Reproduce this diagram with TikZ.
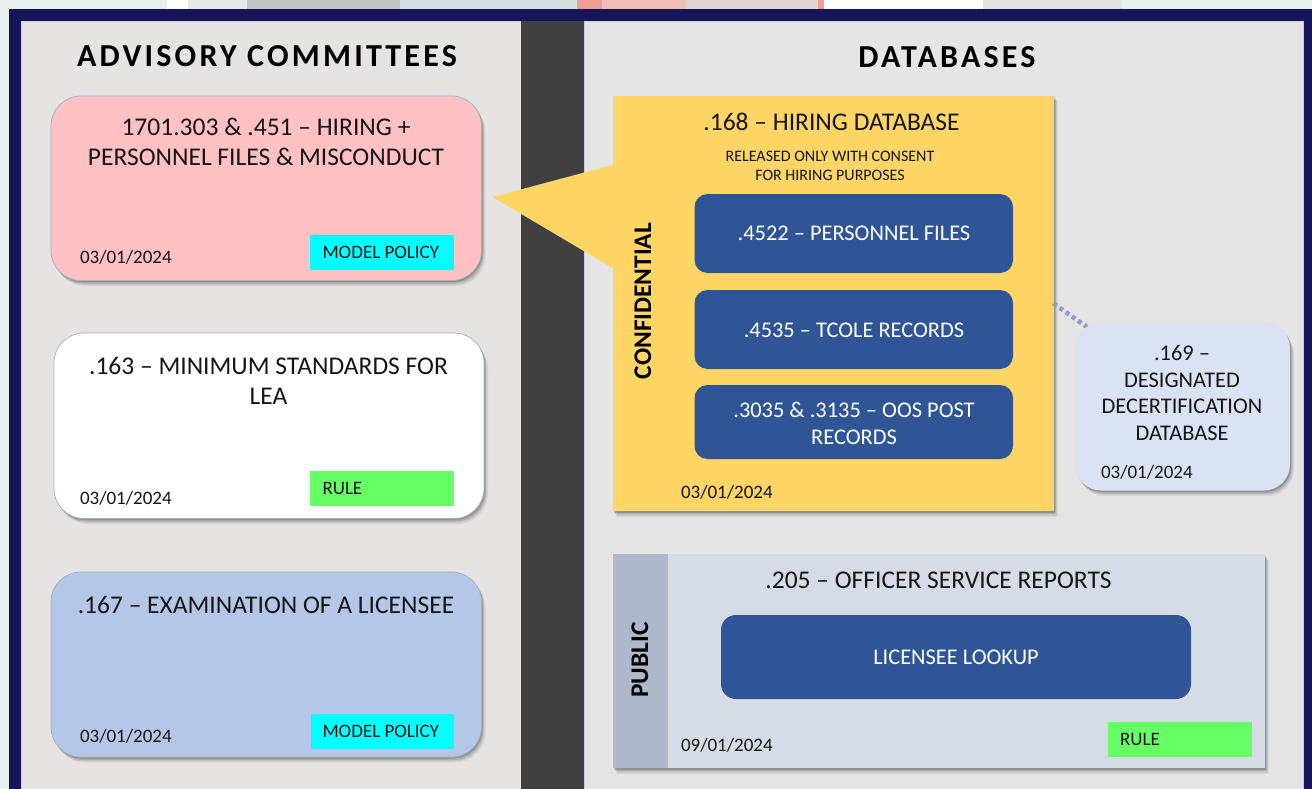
\documentclass[tikz,border=0pt]{standalone}
\usepackage{fontspec}
\setmainfont{Carlito}
\newfontfamily\spaced[LetterSpace=10]{Carlito}
\usetikzlibrary{shadows}
\definecolor{navy}{HTML}{171557}
\definecolor{panelL}{HTML}{E5E4E3}
\definecolor{panelR}{HTML}{E4E5E4}
\definecolor{panelEdge}{HTML}{CFCFDC}
\definecolor{barc}{HTML}{404040}
\definecolor{pinkc}{HTML}{FFC1C3}
\definecolor{bluec}{HTML}{B4C7E7}
\definecolor{yellowc}{HTML}{FFD565}
\definecolor{deepb}{HTML}{2F5597}
\definecolor{palec}{HTML}{DAE3F3}
\definecolor{pubc}{HTML}{D6DCE5}
\definecolor{pubband}{HTML}{ADB9CA}
\definecolor{inkc}{HTML}{151515}
\definecolor{edgec}{HTML}{A3AEC4}
\definecolor{cyanc}{HTML}{00FFFF}
\definecolor{greenc}{HTML}{66FF66}
\definecolor{dotc}{HTML}{8F9BC8}
\tikzset{
  x=1pt,y=-1pt,
  softshade/.style={
    general shadow={shadow xshift=4pt,shadow yshift=-5.5pt,fill=black,fill opacity=.05},
    general shadow={shadow xshift=3pt,shadow yshift=-4.5pt,fill=black,fill opacity=.08},
    general shadow={shadow xshift=2pt,shadow yshift=-3pt,fill=black,fill opacity=.13},
    general shadow={shadow xshift=1pt,shadow yshift=-1.5pt,fill=black,fill opacity=.16}},
  box/.style={anchor=north west,inner sep=0pt,outer sep=0pt,draw=none},
  panel/.style={box,draw=panelEdge,line width=.7pt},
  card/.style={box,rounded corners=30pt,draw=edgec,line width=.7pt,softshade},
  inner/.style={box,fill=deepb,rounded corners=13pt},
  innertext/.style={inner sep=0pt,outer sep=0pt,text=white,align=center,font=\fontsize{22.4}{27}\selectfont},
  tag/.style={box,font=\fontsize{19}{22}\selectfont,text=inkc},
  lab/.style={inner sep=0pt,outer sep=0pt,text=inkc,align=center,font=\fontsize{25.5}{30}\selectfont},
  datelab/.style={inner sep=0pt,outer sep=0pt,text=inkc,font=\fontsize{19}{22}\selectfont},
  side/.style={inner sep=0pt,outer sep=0pt,rotate=90,text=black,font=\bfseries\fontsize{25.4}{28}\selectfont},
  head/.style={inner sep=0pt,outer sep=0pt,text=black,font=\bfseries\spaced\fontsize{32}{36}\selectfont},
}
\newcommand{\strip}[3]{\fill[#3] (#1,0) rectangle (#2,10);}
\definecolor{s1}{HTML}{E9EEF0}
\definecolor{s2}{HTML}{E6E8E8}
\definecolor{s3}{HTML}{C2C5C6}
\definecolor{s4}{HTML}{D6DDE0}
\definecolor{s5}{HTML}{EF9E94}
\definecolor{s6}{HTML}{F0BEB6}
\definecolor{s7}{HTML}{E2D6D2}
\definecolor{s8}{HTML}{E2E2E3}
\begin{document}
\begin{tikzpicture}
\useasboundingbox (0,0) rectangle (1312,789);
% backdrop
\fill[s1] (0,0) rectangle (1312,789);
\strip{167}{188}{white}
\strip{188}{247}{s2}
\strip{247}{400}{s3}
\strip{400}{577}{s4}
\strip{577}{602}{s5}
\strip{602}{686}{s6}
\strip{686}{818}{s7}
\strip{818}{824}{s5}
\strip{824}{983}{white}
\strip{983}{1122}{s8}
% frame and panels
\fill[navy] (9,9) rectangle (1312,789);
\node[panel,fill=panelL,minimum width=500pt,minimum height=769pt] (leftpanel) at (21,21) {};
\node[panel,fill=panelR,minimum width=719pt,minimum height=769pt] (rightpanel) at (584,21) {};
\node[box,fill=barc,minimum width=63pt,minimum height=769pt] (divider) at (521,21) {};
% headings
\node[head] (advh) at (267,56) {ADVISORY COMMITTEES};
\node[head] (dbh) at (947,57) {DATABASES};
% committees
\node[card,fill=pinkc,minimum width=430.5pt,minimum height=184.5pt] (hiringc) at (51,96) {};
\node[lab] (hiringt) at (266,142) {1701.303 \& .451 – HIRING +\\PERSONNEL FILES \& MISCONDUCT};
\node[datelab,anchor=west] (d1) at (80,257.5) {03/01/2024};
\node[tag,fill=cyanc,minimum width=143.5pt,minimum height=35pt] (t1) at (310,235) {};
\node[tag,anchor=west] (t1t) at (322.5,252) {MODEL POLICY};
\node[card,fill=white,minimum width=430pt,minimum height=185.5pt] (minc) at (54,333) {};
\node[lab] (mint) at (268.5,380.5) {.163 – MINIMUM STANDARDS FOR\\LEA};
\node[datelab,anchor=west] (d2) at (80,498.5) {03/01/2024};
\node[tag,fill=greenc,minimum width=143.5pt,minimum height=35pt] (t2) at (310,471) {};
\node[tag,anchor=west] (t2t) at (322.5,488.5) {RULE};
\node[card,fill=bluec,minimum width=430.5pt,minimum height=185pt] (examc) at (51,572) {};
\node[lab] (examt) at (266,605) {.167 – EXAMINATION OF A LICENSEE};
\node[datelab,anchor=west] (d3) at (80,736.5) {03/01/2024};
\node[tag,fill=cyanc,minimum width=143pt,minimum height=35pt] (t3) at (310.5,714) {};
\node[tag,anchor=west] (t3t) at (322.5,731) {MODEL POLICY};
% hiring database
\node[box,fill=yellowc,minimum width=441pt,minimum height=415pt,softshade] (hiredb) at (612.5,96) {};
\coordinate (tip) at (492.5,197);
\fill[yellowc] (hiredb.north west |- 0,165) -- (tip) -- (hiredb.north west |- 0,268) -- cycle;
\fill[yellowc] (612,165) rectangle (614,268);
\node[lab] (hiret) at (831.5,122) {.168 – HIRING DATABASE};
\node[inner sep=0pt,text=inkc,align=center,font=\fontsize{16}{19}\selectfont] (hiren) at (830,165.5) {RELEASED ONLY WITH CONSENT\\FOR HIRING PURPOSES};
\node[side] (conf) at (643,301) {CONFIDENTIAL};
\node[inner,minimum width=318.5pt,minimum height=79pt] (pf) at (694.5,194) {};
\node[innertext] (pft) at (854,233.5) {.4522 – PERSONNEL FILES};
\node[inner,minimum width=318.5pt,minimum height=79pt] (tc) at (694.5,290) {};
\node[innertext] (tct) at (854,330.5) {.4535 – TCOLE RECORDS};
\node[inner,minimum width=318.5pt,minimum height=74pt] (oos) at (694.5,385) {};
\node[innertext] (oost) at (854,423.5) {.3035 \& .3135 – OOS POST\\RECORDS};
\node[datelab,anchor=west] (d4) at (681,492.5) {03/01/2024};
% decertification
\coordinate (decjoin) at (1087,327);
\draw[dotc,line width=4.5pt,dash pattern=on 4pt off 3.5pt] (hiredb.east) -- (decjoin);
\node[box,fill=palec,rounded corners=26pt,minimum width=215pt,minimum height=168pt,softshade] (dec) at (1075,322.5) {};
\node[innertext,text=inkc,font=\fontsize{22.4}{26.7}\selectfont] (dect) at (1182,393) {.169 –\\DESIGNATED\\DECERTIFICATION\\DATABASE};
\node[datelab,anchor=west] (d5) at (1101,472.5) {03/01/2024};
% public
\node[box,fill=pubc,minimum width=652pt,minimum height=214pt,softshade] (pub) at (613,554) {};
\node[box,fill=pubband,minimum width=54.5pt,minimum height=214pt] (pubb) at (613,554) {};
\node[side] (pubs) at (640,660) {PUBLIC};
\node[lab] (pubt) at (938.5,580.5) {.205 – OFFICER SERVICE REPORTS};
\node[inner,rounded corners=15pt,minimum width=470pt,minimum height=84pt] (look) at (721,615) {};
\node[innertext] (lookt) at (956,657.5) {LICENSEE LOOKUP};
\node[datelab,anchor=west] (d6) at (681,745.5) {09/01/2024};
\node[tag,fill=greenc,minimum width=144pt,minimum height=35pt] (t4) at (1108,722) {};
\node[tag,anchor=west] (t4t) at (1120,739.5) {RULE};
\end{tikzpicture}
\end{document}
